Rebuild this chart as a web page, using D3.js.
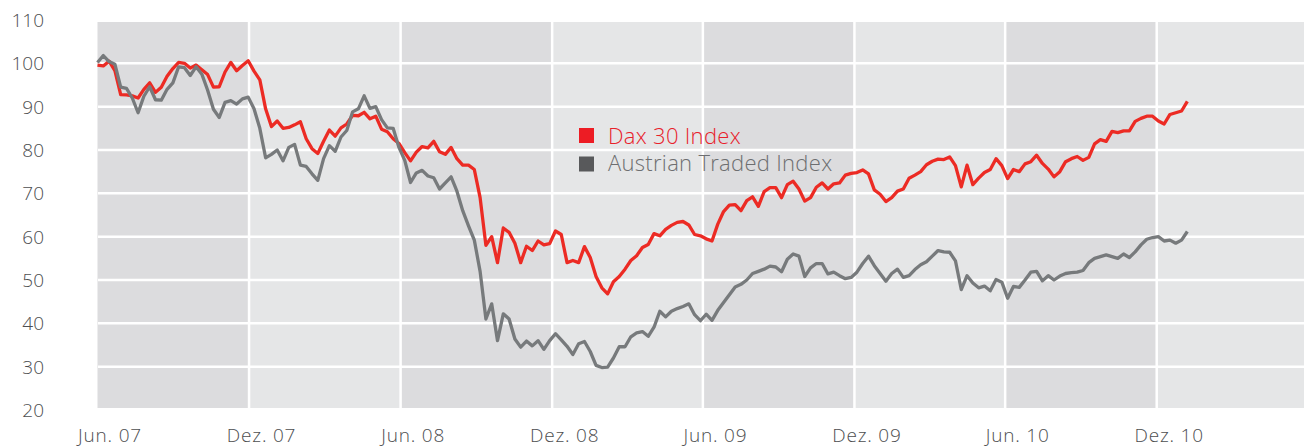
<!DOCTYPE html>
<meta charset="utf-8">
<script src="https://d3js.org/d3.v7.min.js"></script>
<style>
  body { margin: 0; background: #fff; }
  text { font-family: "Open Sans", sans-serif; font-weight: 300; }
</style>
<div id="chart"></div>
<script>
// weekly closes, indexed to 100 at start
var startDate = "2007-06-01";
var dax = [
  99.6, 99.4, 100.5, 98.3, 92.8, 92.7, 92.5, 92, 94, 95.5,
  93.3, 94.5, 97, 98.8, 100.2, 100, 98.9, 99.6, 98.5, 97.4,
  94.5, 94.6, 98, 100.2, 98.3, 99.5, 100.6, 98.2, 96.2, 89.5,
  85.4, 86.7, 85, 85.2, 85.8, 86.5, 82.6, 80.3, 79.2, 82,
  84.6, 83.2, 85.1, 86, 88, 87.9, 88.7, 87.2, 87.8, 84.8,
  84.2, 82.6, 81.5, 79.4, 77.5, 79.5, 80.8, 80.5, 82, 79.6,
  79, 80.6, 78, 76.5, 76.5, 75.5, 69, 58, 60, 54,
  62, 61, 58.5, 54, 57.8, 56.8, 59, 58.1, 58.4, 61.3,
  60.5, 54, 54.5, 54, 57.7, 55.2, 50.8, 48.2, 46.8, 49.6,
  50.8, 52.5, 54.5, 55.6, 57.5, 58.2, 60.7, 60.2, 61.7, 62.6,
  63.3, 63.5, 62.7, 60.5, 60.2, 59.5, 59, 62.9, 65.8, 67.3,
  67.4, 66, 68.3, 69.2, 67, 70.4, 71.3, 71.3, 69, 72,
  72.8, 71, 68.2, 69, 71.4, 72.4, 71, 72.2, 72.4, 74.2,
  74.6, 74.8, 75.4, 74.5, 70.8, 69.8, 68.1, 69, 70.5, 71,
  73.5, 74.2, 75, 76.6, 77.4, 77.9, 77.8, 78.4, 76.4, 71.5,
  76.5, 72, 73.5, 74.8, 75.5, 78, 76.4, 73.4, 75.5, 75,
  76.8, 77.3, 78.8, 76.9, 75.6, 73.8, 75, 77.3, 78, 78.5,
  77.6, 78.3, 81.4, 82.4, 82, 84.3, 84, 84.4, 84.4, 86.6,
  87.3, 87.8, 87.8, 86.7, 86, 88.2, 88.6, 89, 91.2
];
var atx = [
  100.2, 101.8, 100.4, 99.8, 94.5, 94.2, 92, 88.6, 92.4, 94.6,
  91.6, 91.5, 94, 95.5, 99.2, 99, 97.2, 99.2, 97.5, 93.8,
  89.4, 87.5, 91, 91.4, 90.6, 91.8, 92.2, 89.5, 85, 78.2,
  79, 80, 77.5, 80.6, 81.3, 76.5, 76.2, 74.5, 73, 78,
  81, 79.7, 83, 84.5, 88.8, 89.5, 92.5, 89.6, 90, 87,
  85.1, 85, 80.6, 77.6, 72.5, 74.7, 75.3, 74, 73.6, 71,
  72.4, 73.8, 70.5, 66, 62.5, 59.2, 52, 41, 44.5, 36,
  42.2, 41, 36.4, 34.5, 35.9, 34.8, 36, 34, 36, 37.6,
  36.2, 34.7, 32.8, 35.3, 35.8, 33.5, 30.3, 29.8, 29.9, 32,
  34.6, 34.6, 36.9, 37.8, 38.1, 37, 39.1, 42.8, 41.5, 42.8,
  43.4, 43.9, 44.5, 42, 40.6, 42.1, 40.7, 43, 44.8, 46.6,
  48.4, 49, 50, 51.5, 52, 52.5, 53.2, 53, 51.9, 54.8,
  56, 55.5, 50.8, 52.8, 53.8, 53.8, 51.4, 51.8, 51, 50.3,
  50.6, 51.8, 53.8, 55.5, 53.3, 51.5, 49.7, 51.5, 52.5, 50.6,
  51, 52.4, 53.5, 54.2, 55.5, 56.8, 56.5, 56.4, 54.4, 47.8,
  51, 49.3, 48.2, 48.6, 47.5, 50.1, 49.5, 45.8, 48.5, 48.3,
  50, 51.8, 52, 49.8, 51, 50, 50.9, 51.5, 51.7, 51.8,
  52.2, 54, 55, 55.4, 55.8, 55.4, 55, 56, 55.2, 56.5,
  58.1, 59.4, 59.8, 60, 59, 59.2, 58.5, 59.2, 61.2
];
var yTicks = [20, 30, 40, 50, 60, 70, 80, 90, 100, 110];
var xTickDates = ["2007-06-01", "2007-12-01", "2008-06-01", "2008-12-01",
                  "2009-06-01", "2009-12-01", "2010-06-01", "2010-12-01"];
var xTickLabels = ["Jun. 07", "Dez. 07", "Jun. 08", "Dez. 08",
                   "Jun. 09", "Dez. 09", "Jun. 10", "Dez. 10"];
var seriesNames = ["Dax 30 Index", "Austrian Traded Index"];
var seriesColors = ["#ec2b24", "#777a7c"];
var legendColors = ["#ed1c24", "#58595b"];
var legendTextColors = ["#e8202a", "#6d6e70"];

var W = 1304, H = 446;
var plotTop = 22, plotBottom = 408, plotLeft = 98, plotRight = 1304;

var svg = d3.select("#chart").append("svg")
    .attr("width", W)
    .attr("height", H);

var parse = d3.timeParse("%Y-%m-%d");
var t0 = parse(startDate);
var tickDates = xTickDates.map(parse);

var x = d3.scaleTime()
    .domain([tickDates[0], tickDates[tickDates.length - 1]])
    .range([97.5, 1156.7]);

var y = d3.scaleLinear()
    .domain([20, 110])
    .range([410, 20]);

// alternating half-year bands
var bandEdges = tickDates.concat([d3.timeMonth.offset(tickDates[tickDates.length - 1], 6)]);
var bands = d3.pairs(bandEdges);
svg.append("g").selectAll("rect")
  .data(bands)
  .join("rect")
    .attr("x", function(d) { return x(d[0]); })
    .attr("width", function(d) { return Math.min(x(d[1]), plotRight) - x(d[0]); })
    .attr("y", plotTop)
    .attr("height", plotBottom - plotTop)
    .attr("fill", function(d, i) { return i % 2 ? "#e5e6e7" : "#dcdcde"; });

// grid
svg.append("g").selectAll("line")
  .data(yTicks.slice(1, -1))
  .join("line")
    .attr("x1", plotLeft).attr("x2", plotRight)
    .attr("y1", function(d) { return y(d); })
    .attr("y2", function(d) { return y(d); })
    .attr("stroke", "#fff")
    .attr("stroke-width", 2.5);

svg.append("g").selectAll("line")
  .data(tickDates.slice(1))
  .join("line")
    .attr("x1", function(d) { return x(d); })
    .attr("x2", function(d) { return x(d); })
    .attr("y1", plotTop).attr("y2", plotBottom)
    .attr("stroke", "#fff")
    .attr("stroke-width", 2.5);

// axes
var yAxis = svg.append("g")
    .attr("transform", "translate(44,0)")
    .call(d3.axisLeft(y).tickValues(yTicks).tickSize(0).tickPadding(0));
yAxis.select(".domain").remove();
yAxis.selectAll("text")
    .attr("fill", "#4d4e50")
    .style("font-size", "19px")
    .attr("dy", "0.35em");

var xAxis = svg.append("g")
    .attr("transform", "translate(0," + plotBottom + ")")
    .call(d3.axisBottom(x).tickValues(tickDates).tickSize(0)
      .tickFormat(function(d, i) { return xTickLabels[i]; }));
xAxis.select(".domain").remove();
xAxis.selectAll("text")
    .attr("fill", "#4d4e50")
    .style("font-size", "19px")
    .style("letter-spacing", "0.8px")
    .attr("x", 12)
    .attr("y", 33.5)
    .attr("dy", 0);

// series
var line = d3.line()
    .x(function(d, i) { return x(d3.timeDay.offset(t0, 7 * i)); })
    .y(function(d) { return y(d); });

svg.append("path")
    .datum(dax)
    .attr("fill", "none")
    .attr("stroke", seriesColors[0])
    .attr("stroke-width", 3.3)
    .attr("stroke-linejoin", "round")
    .attr("d", line);

svg.append("path")
    .datum(atx)
    .attr("fill", "none")
    .attr("stroke", seriesColors[1])
    .attr("stroke-width", 3.3)
    .attr("stroke-linejoin", "round")
    .attr("d", line);

// legend
var legend = svg.append("g").attr("transform", "translate(579,128)");
seriesNames.forEach(function(name, i) {
  legend.append("rect")
      .attr("x", 0).attr("y", i * 28.5)
      .attr("width", 15).attr("height", 15)
      .attr("fill", legendColors[i]);
  legend.append("text")
      .attr("x", 29).attr("y", i * 27.5 + 15.5)
      .attr("fill", legendTextColors[i])
      .style("font-size", "22px")
      .style("letter-spacing", "0.3px")
      .text(name);
});
</script>
